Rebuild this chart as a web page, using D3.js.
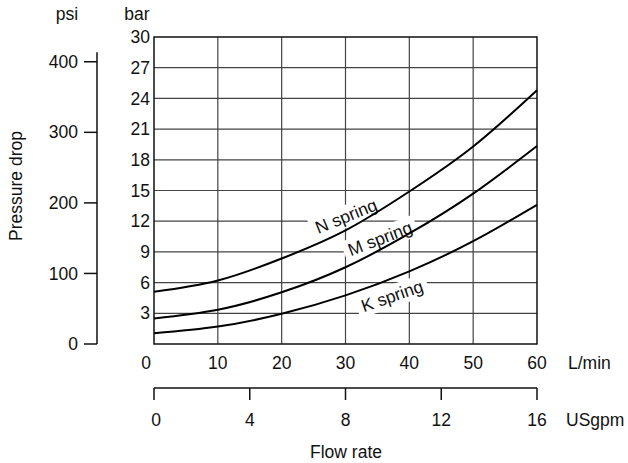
<!DOCTYPE html>
<html>
<head>
<meta charset="utf-8">
<script src="https://cdnjs.cloudflare.com/ajax/libs/d3/7.8.5/d3.min.js"></script>
<style>
  body { margin: 0; background: #fff; }
  svg text { font-family: "Liberation Sans", Arial, Helvetica, sans-serif; font-size: 17.5px; fill: #111; }
</style>
</head>
<body>
<div id="chart"></div>
<script>
var flowLpm = [0, 10, 20, 30, 40, 50, 60];
var nSpring = [5.1, 6.2, 8.35, 11.1, 14.9, 19.3, 24.8];
var mSpring = [2.5, 3.35, 5.05, 7.5, 10.8, 14.7, 19.35];
var kSpring = [1.05, 1.7, 2.95, 4.75, 7.1, 10.05, 13.6];

var barTicks = [3, 6, 9, 12, 15, 18, 21, 24, 27, 30];
var psiTicks = [0, 100, 200, 300, 400];
var lpmTicks = [0, 10, 20, 30, 40, 50, 60];
var gpmTicks = [0, 4, 8, 12, 16];

var springNames = ["N spring", "M spring", "K spring"];
var springLabelAt = [[30.1, 12.5, 22], [35.4, 10.3, 21], [37.3, 4.7, 19]];

(function(){
var width = 628, height = 463;
var plotLeft = 154, plotRight = 537, plotTop = 37, plotBottom = 344;

var svg = d3.select("#chart").append("svg")
    .attr("width", width)
    .attr("height", height);

var x = d3.scaleLinear().domain([0, 60]).range([plotLeft, plotRight]);
var y = d3.scaleLinear().domain([0, 30]).range([plotBottom, plotTop]);
var psi = d3.scaleLinear().domain([0, 30 * 14.5038]).range([plotBottom, plotTop]);
var gpm = d3.scaleLinear().domain([0, 16]).range([plotLeft, plotRight]);

// grid
svg.append("g").selectAll("line")
    .data(barTicks.filter(function(d){ return d < 30 }))
    .enter().append("line")
    .attr("x1", plotLeft).attr("x2", plotRight)
    .attr("y1", function(d){ return y(d) }).attr("y2", function(d){ return y(d) })
    .attr("stroke", "#444").attr("stroke-width", 1.2);

svg.append("g").selectAll("line")
    .data(lpmTicks.filter(function(d){ return d > 0 && d < 60 }))
    .enter().append("line")
    .attr("y1", plotTop).attr("y2", plotBottom)
    .attr("x1", function(d){ return x(d) }).attr("x2", function(d){ return x(d) })
    .attr("stroke", "#444").attr("stroke-width", 1.2);

// box
svg.append("rect")
    .attr("x", plotLeft).attr("y", plotTop)
    .attr("width", plotRight - plotLeft).attr("height", plotBottom - plotTop)
    .attr("fill", "none").attr("stroke", "#111").attr("stroke-width", 1.5);

// spring labels (white boxes first)
var labels = svg.append("g").selectAll("g")
    .data(springNames)
    .enter().append("g")
    .attr("transform", function(d, i){
        var p = springLabelAt[i];
        return "translate(" + x(p[0]) + "," + y(p[1]) + ") rotate(" + (-p[2]) + ")";
    });
labels.append("text")
    .attr("text-anchor", "middle")
    .attr("dy", "0.35em")
    .text(function(d){ return d });
labels.each(function(){
    var g = d3.select(this);
    var b = g.select("text").node().getBBox();
    g.insert("rect", "text")
        .attr("x", b.x - 5).attr("y", b.y - 1)
        .attr("width", b.width + 10).attr("height", b.height + 2)
        .attr("fill", "#fff");
});

// curves
var line = d3.line()
    .x(function(d){ return x(d[0]) })
    .y(function(d){ return y(d[1]) })
    .curve(d3.curveNatural);

[nSpring, mSpring, kSpring].forEach(function(s){
    svg.append("path")
        .datum(flowLpm.map(function(f, i){ return [f, s[i]] }))
        .attr("d", line)
        .attr("fill", "none")
        .attr("stroke", "#000")
        .attr("stroke-width", 2);
});

// bar tick labels
svg.append("g").selectAll("text")
    .data(barTicks)
    .enter().append("text")
    .attr("x", plotLeft - 4)
    .attr("y", function(d){ return y(d) })
    .attr("dy", "0.35em")
    .attr("text-anchor", "end")
    .text(function(d){ return d });

// psi axis
var psiX = 97;
svg.append("line")
    .attr("x1", psiX).attr("x2", psiX)
    .attr("y1", psi(0)).attr("y2", y(28.5))
    .attr("stroke", "#111").attr("stroke-width", 1.5);
var psiG = svg.append("g").selectAll("g")
    .data(psiTicks)
    .enter().append("g")
    .attr("transform", function(d){ return "translate(0," + psi(d) + ")" });
psiG.append("line")
    .attr("x1", psiX - 13).attr("x2", psiX)
    .attr("stroke", "#111").attr("stroke-width", 1.5);
psiG.append("text")
    .attr("x", psiX - 19)
    .attr("dy", "0.35em")
    .attr("text-anchor", "end")
    .text(function(d){ return d });

svg.append("text").attr("x", 67).attr("y", 14).attr("dy", "0.35em")
    .attr("text-anchor", "middle").text("psi");
svg.append("text").attr("x", 137).attr("y", 14).attr("dy", "0.35em")
    .attr("text-anchor", "middle").text("bar");

svg.append("text")
    .attr("transform", "translate(16,186) rotate(-90)")
    .attr("dy", "0.35em")
    .attr("text-anchor", "middle")
    .text("Pressure drop");

// L/min labels
svg.append("g").selectAll("text")
    .data(lpmTicks)
    .enter().append("text")
    .attr("x", function(d){ return d === 0 ? x(d) - 8 : x(d) })
    .attr("y", 363)
    .attr("dy", "0.35em")
    .attr("text-anchor", "middle")
    .text(function(d){ return d });
svg.append("text").attr("x", 568).attr("y", 363).attr("dy", "0.35em").text("L/min");

// USgpm axis
var gpmY = 388;
svg.append("line")
    .attr("x1", gpm(0)).attr("x2", gpm(16))
    .attr("y1", gpmY).attr("y2", gpmY)
    .attr("stroke", "#111").attr("stroke-width", 1.5);
var gpmG = svg.append("g").selectAll("g")
    .data(gpmTicks)
    .enter().append("g")
    .attr("transform", function(d){ return "translate(" + gpm(d) + ",0)" });
gpmG.append("line")
    .attr("y1", gpmY).attr("y2", gpmY + 12)
    .attr("stroke", "#111").attr("stroke-width", 1.5);
gpmG.append("text")
    .attr("x", function(d){ return d === 0 ? 2 : 0 })
    .attr("y", 420)
    .attr("dy", "0.35em")
    .attr("text-anchor", "middle")
    .text(function(d){ return d });
svg.append("text").attr("x", 566).attr("y", 420).attr("dy", "0.35em").text("USgpm");

svg.append("text")
    .attr("x", 346).attr("y", 452).attr("dy", "0.35em")
    .attr("text-anchor", "middle")
    .text("Flow rate");
})();
</script>
</body>
</html>
